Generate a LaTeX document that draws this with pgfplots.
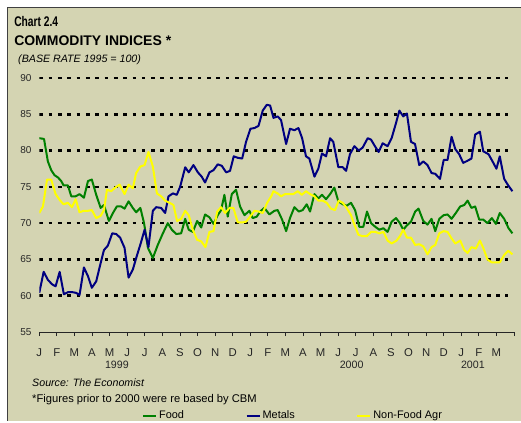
\documentclass[border=0pt]{standalone}
\usepackage{fontspec}
\setmainfont{Liberation Sans}
\usepackage{graphicx}
\usepackage{pgfplots}
\pgfplotsset{compat=1.18}

\definecolor{bgkhaki}{RGB}{212,212,178}
\definecolor{foodgreen}{RGB}{0,128,0}
\definecolor{metalblue}{RGB}{0,0,128}
\definecolor{agryellow}{RGB}{255,255,0}
\definecolor{framegray}{RGB}{64,64,64}
\newcommand\fs[1]{\fontsize{#1}{#1}\selectfont}

\begin{document}
\begin{tikzpicture}
% background and frame, in pixel units (y down)
\begin{scope}[x=0.75pt,y=-0.75pt]
\fill[white] (0,0) rectangle (521,421);
\fill[bgkhaki] (8,8) rectangle (521,421);
\draw[framegray, line width=0.75pt] (8,421) -- (8,8) -- (521,8);
\end{scope}

\begin{axis}[
    at={(29.475pt,-249.3pt)}, anchor=south west,
    scale only axis, width=356.4pt, height=190.8pt,
    xmin=0, xmax=27, ymin=55, ymax=90,
    axis x line*=bottom, axis y line*=left,
    y axis line style={draw=none},
    x axis line style={line width=0.6pt, black!85},
    /pgf/number format/assume math mode=true,
    xtick={0,...,27},
    xticklabels={J,F,M,A,M,J,J,A,S,O,N,D,J,F,M,A,M,J,J,A,S,O,N,D,J,F,M,{}},
    tick align=outside, major tick length=3pt,
    x tick style={black!85, line width=0.6pt},
    ytick={55,60,...,90},
    y tick style={draw=none},
    xticklabel style={font=\fs{8.5pt}, text=black!85, anchor=base, inner sep=0pt, yshift=-15.5pt},
    yticklabel style={font=\fs{7.5pt}, text=black!85, anchor=east, inner sep=0pt, xshift=-2.7pt},
    legend columns=3, legend cell align=left,
    legend style={at={(0.2161,-0.3286)}, anchor=west, draw=none, fill=none,
        inner sep=0pt, font=\fs{8.2pt}, nodes={inner sep=1.5pt},
        /tikz/every even column/.append style={column sep=44.75pt}},
    legend image code/.code={\draw[#1] (0pt,0pt) -- (9.75pt,0pt);},
]
\pgfplotsinvokeforeach{60,65,70,75,80,85,90}{
  \draw[black, line width=2pt, dash pattern=on 2.75pt off 4.25pt] (axis cs:0,#1) -- (axis cs:26.63,#1);
}

\addplot[foodgreen, line width=1.5pt, line join=round] coordinates {
(0,81.7)(0.27,81.6)(0.49,78.5)(0.68,77.3)(0.87,76.6)(1.06,76.3)(1.25,75.8)(1.38,75.2)(1.63,75.2)(1.82,73.7)
(2.07,73.7)(2.29,74.0)(2.54,73.5)(2.77,75.8)(2.99,76.0)(3.24,73.9)(3.49,72.1)(3.68,72.5)(3.96,70.3)(4.19,71.4)
(4.41,72.3)(4.66,72.3)(4.85,72.0)(5.08,73.0)(5.32,72.1)(5.51,71.5)(5.75,72.1)(5.96,70.0)(6.18,66.6)(6.46,65.2)
(6.74,67.0)(7.03,68.6)(7.31,70.0)(7.54,69.1)(7.79,68.5)(8.07,68.6)(8.30,70.6)(8.50,69.1)(8.73,68.8)(8.98,70.3)
(9.21,69.4)(9.43,71.2)(9.68,70.8)(9.91,69.9)(10.15,71.1)(10.34,71.8)(10.53,73.9)(10.72,70.9)(10.95,74.0)(11.19,74.6)
(11.42,72.3)(11.67,71.1)(11.95,71.7)(12.14,70.7)(12.37,70.9)(12.56,71.6)(12.80,72.1)(13.09,71.2)(13.37,71.7)(13.56,71.8)
(13.81,70.5)(14.04,68.9)(14.26,70.7)(14.51,72.2)(14.76,71.6)(14.98,71.8)(15.21,72.6)(15.40,71.6)(15.65,74.0)(15.87,73.4)
(16.08,73.9)(16.31,73.3)(16.54,74.0)(16.78,74.9)(17.01,73.0)(17.26,72.6)(17.48,72.4)(17.73,72.8)(17.96,71.8)(18.20,69.5)
(18.43,69.5)(18.64,71.6)(18.87,70.0)(19.11,69.5)(19.34,69.1)(19.57,69.3)(19.81,68.8)(20.04,70.2)(20.29,70.7)(20.51,70.0)
(20.70,69.1)(20.91,69.7)(21.14,70.2)(21.38,71.6)(21.57,72.0)(21.84,70.3)(22.08,69.8)(22.31,70.6)(22.52,68.9)(22.75,70.6)
(23.00,71.1)(23.22,71.2)(23.45,70.6)(23.69,71.4)(23.94,72.3)(24.17,72.5)(24.36,73.1)(24.58,72.1)(24.79,72.3)(25.02,70.5)
(25.25,70.5)(25.49,70.0)(25.74,70.7)(25.97,69.9)(26.19,71.4)(26.44,70.6)(26.69,69.3)(26.91,68.6)
};
\addlegendentry{Food}

\addplot[metalblue, line width=1.5pt, line join=round] coordinates {
(0,60.4)(0.25,63.3)(0.49,62.2)(0.72,61.6)(0.93,61.3)(1.16,63.3)(1.40,60.2)(1.63,60.5)(1.88,60.5)(2.10,60.4)
(2.29,60.1)(2.54,63.9)(2.77,62.7)(2.99,61.1)(3.24,62.0)(3.49,64.5)(3.68,66.3)(3.90,66.9)(4.15,68.6)(4.38,68.5)
(4.60,68.0)(4.85,66.6)(5.08,62.5)(5.32,63.6)(5.55,65.5)(5.78,67.3)(5.99,69.1)(6.21,66.7)(6.46,71.7)(6.65,72.2)
(6.93,72.1)(7.16,71.4)(7.35,73.7)(7.60,74.1)(7.82,73.9)(8.01,75.0)(8.30,77.7)(8.50,77.0)(8.77,78.0)(9.02,77.0)
(9.24,76.4)(9.43,75.6)(9.68,77.0)(9.91,77.3)(10.15,78.1)(10.38,77.9)(10.63,77.0)(10.85,77.2)(11.06,79.2)(11.29,79.0)
(11.54,78.9)(11.76,81.2)(12.01,83.0)(12.24,83.1)(12.47,83.4)(12.71,85.5)(12.94,86.3)(13.13,86.2)(13.32,84.5)(13.56,84.7)
(13.75,84.2)(14.04,80.9)(14.26,83.0)(14.51,82.8)(14.74,83.1)(14.95,81.7)(15.17,79.2)(15.36,78.9)(15.65,76.4)(15.87,77.5)
(16.08,79.6)(16.31,79.2)(16.54,81.7)(16.72,81.2)(17.01,77.7)(17.26,77.7)(17.45,77.2)(17.67,79.5)(17.92,80.6)(18.17,80.0)
(18.39,80.4)(18.68,81.7)(18.87,81.5)(19.09,80.6)(19.30,79.8)(19.53,81.0)(19.81,80.6)(20.04,81.7)(20.29,83.8)(20.48,85.5)
(20.70,84.7)(20.91,85.1)(21.14,81.2)(21.37,80.9)(21.61,78.0)(21.84,78.5)(22.08,78.0)(22.31,76.9)(22.52,76.8)(22.79,76.1)
(23.00,78.7)(23.22,78.7)(23.45,81.9)(23.66,80.2)(23.88,79.5)(24.11,78.3)(24.36,78.6)(24.58,78.9)(24.79,82.2)(25.06,82.6)
(25.25,79.9)(25.55,79.5)(25.78,78.5)(26.00,77.5)(26.19,79.2)(26.44,76.1)(26.67,75.2)(26.91,74.4)
};
\addlegendentry{Metals}

\addplot[agryellow, line width=1.5pt, line join=round] coordinates {
(0,71.4)(0.21,72.3)(0.44,76.0)(0.68,76.0)(0.93,74.0)(1.16,73.2)(1.38,72.6)(1.63,72.8)(1.86,72.2)(2.07,73.3)
(2.29,71.5)(2.52,71.7)(2.77,71.7)(2.99,71.8)(3.24,70.7)(3.49,71.0)(3.68,71.8)(3.85,74.6)(4.09,74.4)(4.32,74.9)
(4.57,75.3)(4.85,74.0)(5.08,75.3)(5.32,74.8)(5.51,76.9)(5.75,77.8)(5.99,78.0)(6.21,79.8)(6.46,77.8)(6.69,74.1)
(6.93,73.7)(7.16,73.1)(7.41,72.8)(7.63,72.5)(7.84,70.3)(8.07,70.6)(8.30,71.7)(8.50,71.1)(8.73,69.1)(8.98,67.7)
(9.21,67.5)(9.45,66.7)(9.68,68.8)(9.91,68.9)(10.12,71.6)(10.34,72.2)(10.57,71.4)(10.82,72.1)(11.04,72.1)(11.29,70.1)
(11.54,70.1)(11.76,70.2)(11.99,70.9)(12.24,71.7)(12.48,71.6)(12.71,71.4)(12.96,72.8)(13.19,73.7)(13.32,74.4)(13.56,74.1)
(13.75,73.7)(13.98,74.0)(14.22,74.0)(14.45,74.0)(14.70,74.4)(14.93,73.9)(15.17,74.4)(15.40,74.0)(15.65,73.7)(15.87,73.1)
(16.12,73.1)(16.35,72.8)(16.59,72.0)(16.82,71.8)(17.03,73.1)(17.26,72.8)(17.48,72.1)(17.73,71.1)(17.92,69.8)(18.15,68.4)
(18.39,68.2)(18.62,68.2)(18.87,68.8)(19.11,68.8)(19.34,68.6)(19.57,68.8)(19.81,67.6)(20.04,67.2)(20.32,67.6)(20.51,68.2)
(20.70,69.1)(20.91,68.0)(21.14,68.0)(21.38,67.0)(21.61,67.1)(21.84,66.8)(22.08,65.7)(22.31,66.7)(22.52,67.0)(22.75,68.6)
(23.00,68.9)(23.22,68.8)(23.45,67.9)(23.66,67.2)(23.94,67.6)(24.17,66.3)(24.36,65.9)(24.58,66.7)(24.83,66.5)(25.06,67.6)
(25.25,66.6)(25.49,65.0)(25.74,64.6)(25.97,64.6)(26.19,64.6)(26.44,65.6)(26.67,66.2)(26.91,65.7)
};
\addlegendentry{Non-Food Agr}
\end{axis}

% titles, year labels and notes, in pixel units (y down)
\begin{scope}[x=0.75pt,y=-0.75pt]
\node[anchor=base west, inner sep=0pt] at (14,27) {\fs{10.5pt}\bfseries\resizebox{33pt}{\height}{Chart 2.4}};
\node[anchor=base west, inner sep=0pt] at (14,46) {\fs{10.5pt}\bfseries COMMODITY INDICES *};
\node[anchor=base west, inner sep=0pt] at (18,62.5) {\fs{8pt}\itshape (BASE RATE 1995 = 100)};
\node[anchor=base, inner sep=0pt, text=black!85] at (117,369.3) {\fs{8pt}1999};
\node[anchor=base, inner sep=0pt, text=black!85] at (352,369.3) {\fs{8pt}2000};
\node[anchor=base, inner sep=0pt, text=black!85] at (473.3,369.3) {\fs{8pt}2001};
\node[anchor=base west, inner sep=0pt] at (32,387) {\fs{8pt}\itshape Source: The Economist};
\node[anchor=base west, inner sep=0pt] at (32,403) {\fs{8.4pt}*Figures prior to 2000 were re based by CBM};
\end{scope}
\end{tikzpicture}
\end{document}
